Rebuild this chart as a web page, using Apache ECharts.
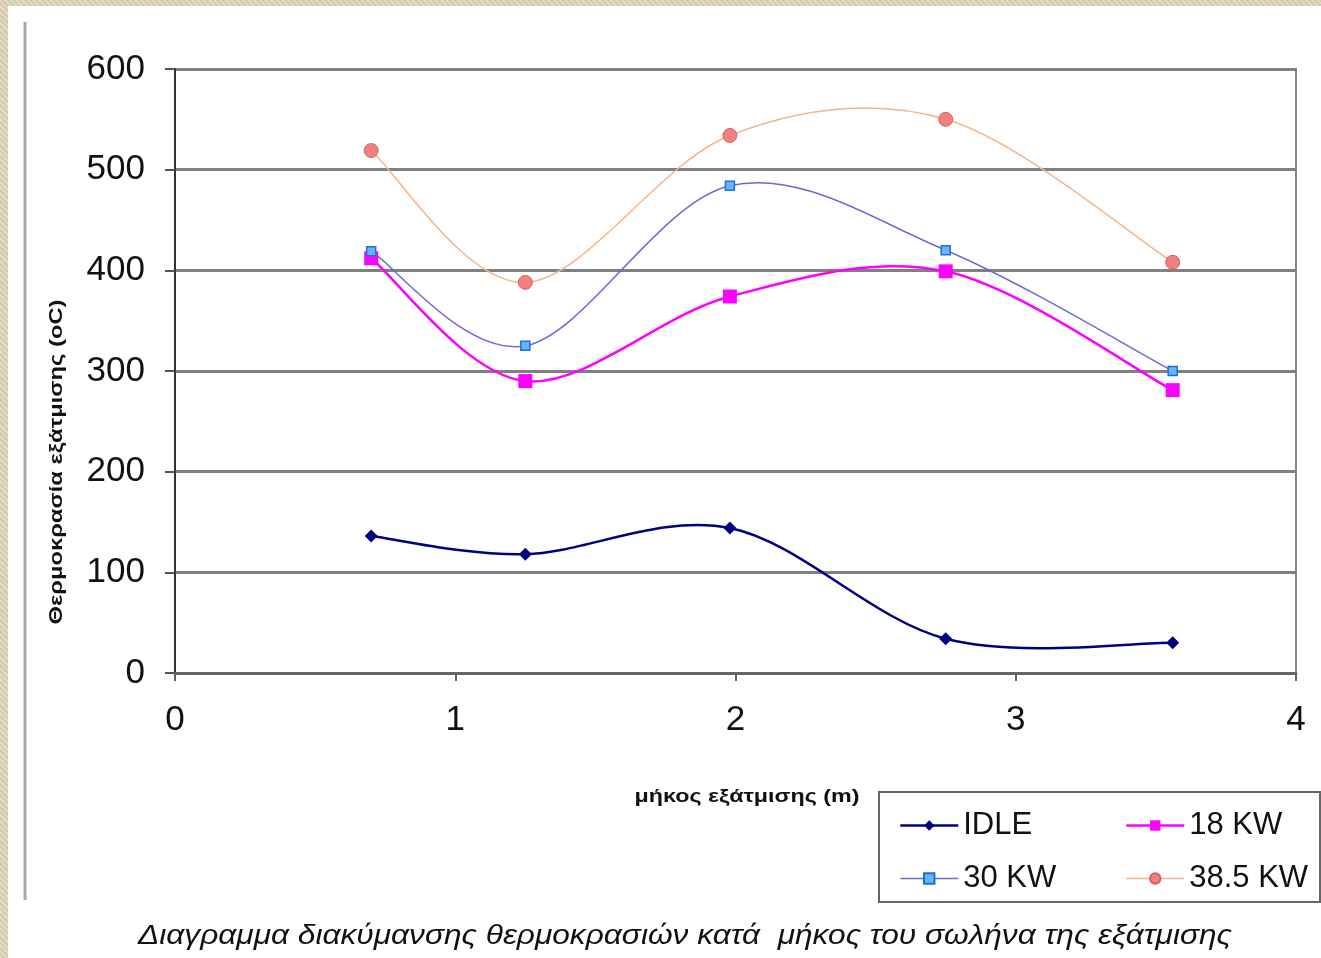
<!DOCTYPE html>
<html>
<head>
<meta charset="utf-8">
<script src="https://cdn.jsdelivr.net/npm/echarts@6/dist/echarts.min.js"></script>
<style>
html,body{margin:0;padding:0;}
body{width:1321px;height:958px;background:#dcd2b6;
background-image:repeating-linear-gradient(45deg,rgba(255,255,255,0.18) 0 2px,rgba(0,0,0,0.04) 2px 4px);position:relative;overflow:hidden;}
#panel{position:absolute;left:8px;top:6px;right:0;bottom:0;background:#fff;}
#chart{position:absolute;left:0;top:0;width:1321px;height:958px;}
</style>
</head>
<body>
<div id="panel"></div>
<div id="chart"></div>
<script>
// ---- data ----
const xValues = [0.7, 1.25, 1.98, 2.75, 3.56];
const seriesNames = ['IDLE', '18 KW', '30 KW', '38.5 KW'];
const idle = [136, 118, 144, 34, 30];
const kw18 = [412, 290, 374, 399, 281];
const kw30 = [419, 325, 484, 420, 300];
const kw385 = [519, 388, 534, 550, 408];
const xTicks = [0, 1, 2, 3, 4];
const yTicks = [0, 100, 200, 300, 400, 500, 600];
const yTitle = 'Θερμοκρασία εξάτμισης (oC)';
const xTitle = 'μήκος εξάτμισης (m)';
const caption = 'Διαγραμμα διακύμανσης θερμοκρασιών κατά  μήκος του σωλήνα της εξάτμισης';

function pairs(ys){ return xValues.map((x,i)=>[x, ys[i]]); }

// styles per series (kept separate from data)
const lineColors = ['#000080', '#ff00ff', '#6a6ad8', '#f3b588'];
const lineWidths = [2.5, 2.5, 1.5, 1.5];

// measure helper for fitting text widths
const cv = document.createElement('canvas').getContext('2d');
function fitScale(text, font, target){ cv.font = font; return target / cv.measureText(text).width; }

const capFont = 'italic 28px "Liberation Sans"';
const capScale = fitScale(caption, capFont, 1094);
const yFont = 'bold 18px "Liberation Sans"';
const yScale = fitScale(yTitle, yFont, 325);
const xFont = 'bold 18px "Liberation Sans"';
const xScale = fitScale(xTitle, xFont, 225);

// Excel-like smoothed curve (Catmull-Rom Bezier) drawn through the axis scales
function smoothRenderer(ys, color, width){
  return function(params, api){
    const i = params.dataIndex;
    const n = ys.length;
    if (i >= n - 1) return null;
    const P = k => api.coord([xValues[Math.max(0, Math.min(n-1, k))], ys[Math.max(0, Math.min(n-1, k))]]);
    const p0 = P(i-1), p1 = P(i), p2 = P(i+1), p3 = P(i+2);
    const t = 1/6;
    return {
      type: 'bezierCurve',
      shape: {
        x1: p1[0], y1: p1[1], x2: p2[0], y2: p2[1],
        cpx1: p1[0] + (p2[0]-p0[0])*t, cpy1: p1[1] + (p2[1]-p0[1])*t,
        cpx2: p2[0] - (p3[0]-p1[0])*t, cpy2: p2[1] - (p3[1]-p1[1])*t
      },
      style: { stroke: color, lineWidth: width, fill: null }
    };
  };
}
const allY = [idle, kw18, kw30, kw385];

const chart = echarts.init(document.getElementById('chart'), null, {renderer:'canvas'});
const legendText = { fontSize: 31, color: '#111', fontFamily: 'Liberation Sans' };
const legendItem = k => ({ name: seriesNames[k], lineStyle: { color: lineColors[k], width: lineWidths[k], opacity: 1 } });
const option = {
  backgroundColor: 'transparent',
  animation: false,
  grid: { left: 175, right: 25, top: 69, bottom: 285, show: true, borderColor: '#858585', borderWidth: 2 },
  xAxis: {
    type: 'value', min: 0, max: 4, interval: 1,
    axisLine: { show: true, onZero: false, lineStyle: { color: '#666', width: 3 } },
    axisTick: { show: true, length: 8, lineStyle: { color: '#666', width: 2 } },
    axisLabel: { margin: 30, fontSize: 35, color: '#111', fontFamily: 'Liberation Sans',
      formatter: v => xTicks.includes(v) ? String(v) : '' },
    splitLine: { show: false }
  },
  yAxis: {
    type: 'value', min: 0, max: 600, interval: 100,
    axisLine: { show: true, lineStyle: { color: '#333', width: 2 } },
    axisTick: { show: true, length: 10, lineStyle: { color: '#555', width: 2 } },
    axisLabel: { margin: 30, fontSize: 35, color: '#111', fontFamily: 'Liberation Sans',
      formatter: v => yTicks.includes(v) ? String(v) : '' },
    splitLine: { show: true, lineStyle: { color: '#808080', width: 3 } }
  },
  legend: [
    { data: [legendItem(0), legendItem(2)], orient: 'vertical', left: 894, top: 805, itemGap: 22,
      itemWidth: 58, itemHeight: 13, textStyle: legendText },
    { data: [legendItem(1), legendItem(3)], orient: 'vertical', left: 1120, top: 805, itemGap: 22,
      itemWidth: 58, itemHeight: 13, textStyle: legendText }
  ],
  graphic: [
    { type: 'line', z: 0, shape: { x1: 25, y1: 22, x2: 25, y2: 900 }, style: { stroke: '#a8a8a8', lineWidth: 3 } },
    { type: 'rect', z: 0, shape: { x: 879, y: 792, width: 441, height: 110 }, style: { fill: '#fff', stroke: '#666', lineWidth: 2 } },
    { type: 'text', z: 5, x: 685, y: 936, scaleX: capScale, style: { text: caption, font: capFont, fill: '#111', align: 'center', verticalAlign: 'middle' } },
    { type: 'text', z: 5, x: 57, y: 462, rotation: Math.PI/2, scaleX: yScale, style: { text: yTitle, font: yFont, fill: '#111', align: 'center', verticalAlign: 'middle' } },
    { type: 'text', z: 5, x: 747, y: 797, scaleX: xScale, style: { text: xTitle, font: xFont, fill: '#111', align: 'center', verticalAlign: 'middle' } }
  ],
  series: [
    { name: seriesNames[0], type: 'line', z: 3, data: pairs(idle), symbol: 'diamond', symbolSize: 13,
      lineStyle: { color: lineColors[0], width: lineWidths[0], opacity: 0 }, itemStyle: { color: '#000080' } },
    { name: seriesNames[1], type: 'line', z: 3, data: pairs(kw18), symbol: 'rect', symbolSize: 14,
      lineStyle: { color: lineColors[1], width: lineWidths[1], opacity: 0 }, itemStyle: { color: '#ff00ff' } },
    { name: seriesNames[2], type: 'line', z: 3, data: pairs(kw30), symbol: 'rect', symbolSize: 9,
      lineStyle: { color: lineColors[2], width: lineWidths[2], opacity: 0 }, itemStyle: { color: '#66b3ff', borderColor: '#1f6fd6', borderWidth: 1.5 } },
    { name: seriesNames[3], type: 'line', z: 3, data: pairs(kw385), symbol: 'circle', symbolSize: 14,
      lineStyle: { color: lineColors[3], width: lineWidths[3], opacity: 0 }, itemStyle: { color: '#f08080', borderColor: '#d86060', borderWidth: 1 } }
  ].concat(allY.map((ys, k) => ({
    name: seriesNames[k], type: 'custom', z: 2, data: pairs(ys), clip: true,
    renderItem: smoothRenderer(ys, lineColors[k], lineWidths[k])
  })))
};
chart.setOption(option);
</script>
</body>
</html>
